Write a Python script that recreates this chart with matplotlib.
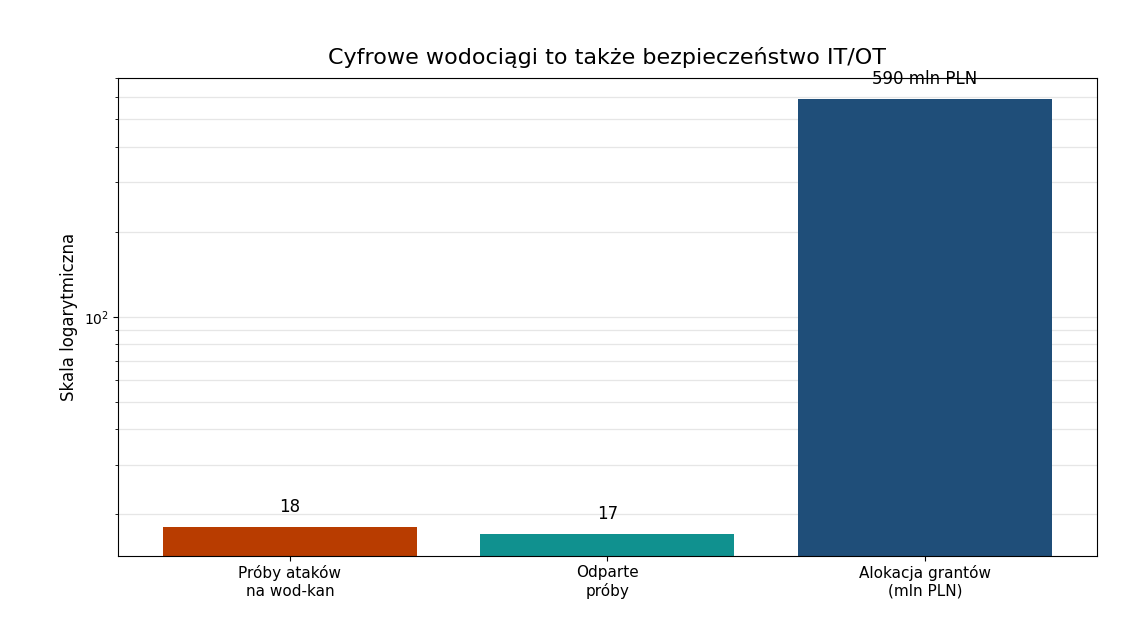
import matplotlib
matplotlib.use("Agg")
import matplotlib.pyplot as plt
from matplotlib.ticker import NullFormatter

categories = ["Próby ataków\nna wod-kan", "Odparte\npróby", "Alokacja grantów\n(mln PLN)"]
values = [18, 17, 590]
labels = ["18", "17", "590 mln PLN"]
colors = ["#b83c00", "#10918f", "#1f4e79"]

fig, ax = plt.subplots(figsize=(11.27, 6.3), dpi=100)
fig.subplots_adjust(left=0.105, right=0.973, top=0.876, bottom=0.118)

bars = ax.bar(categories, values, color=colors, width=0.8, zorder=2)
ax.set_yscale("log")
ax.set_ylim(14.3, 700)
ax.yaxis.set_minor_formatter(NullFormatter())
ax.grid(True, which="both", axis="y", color="#e6e6e6", linewidth=0.9, zorder=0)

for b, lab, v in zip(bars, labels, values):
    ax.annotate(lab, (b.get_x() + b.get_width() / 2, v), xytext=(0, 8),
                textcoords="offset points", ha="center", va="bottom", fontsize=12)

ax.set_ylabel("Skala logarytmiczna", fontsize=12)
ax.set_title("Cyfrowe wodociągi to także bezpieczeństwo IT/OT", fontsize=16, pad=10)
ax.tick_params(axis="x", labelsize=11)

plt.savefig("out.png", dpi=100)
